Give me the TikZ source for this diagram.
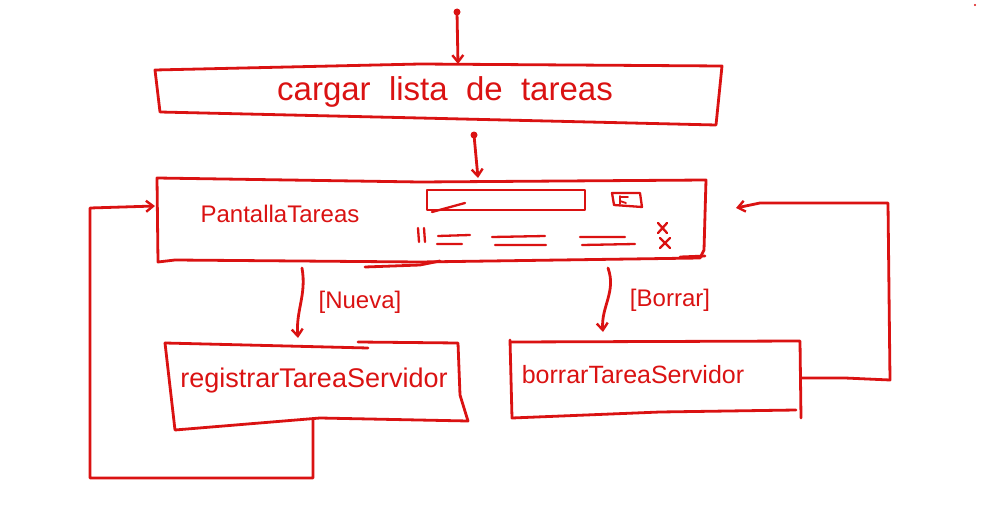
\documentclass[tikz,border=0pt]{standalone}
\usepackage{fontspec}
\setmainfont{Liberation Sans}
\usetikzlibrary{arrows.meta}
\definecolor{ink}{RGB}{218,18,18}
\tikzset{
  pen/.style={draw=ink, line width=2.8pt, line cap=round, line join=round},
  thin pen/.style={pen, line width=2.3pt},
  flow/.style={pen, -{Straight Barb[length=7pt,width=11pt,line width=2.4pt]}},
  lbl/.style={text=ink, inner sep=0pt, font=#1},
  lbl/.default={\fontsize{22}{22}\selectfont}
}
\begin{document}
\begin{tikzpicture}[x=1pt,y=-1pt]
\useasboundingbox (0,0) rectangle (994,511);
% start
\fill[ink] (457,12) circle (3.5pt);
\coordinate (s0) at (457,12);
% box 1
\draw[pen] (155,70) -- (420,64) -- (722,66) -- (716,125) -- (420,118) -- (160,112) -- cycle;
\coordinate (b1top) at (458,64);
\node[lbl={\fontsize{33}{33}\selectfont}] (t1) at (445,92) {cargar\ \ lista\ \ de\ \ tareas};
\draw[flow] (s0) -- (b1top);
% second dot and arrow
\fill[ink] (474,135) circle (3.5pt);
\coordinate (s1) at (474,135);
% box 2
\draw[pen] (157,178) -- (420,182) -- (706,180) -- (704,250) -- (700,258) -- (420,262) -- (175,260) -- (158,262) -- cycle;
\coordinate (b2top) at (478,178);
\coordinate (b2left) at (155,206);
\coordinate (b2right) at (736,208);
\draw[flow] (s1) -- (b2top);
\node[lbl={\fontsize{24}{24}\selectfont}] (t2) at (280,214) {PantallaTareas};
% mockup inside box 2
\draw[thin pen] (427,190) rectangle (585,210);
\draw[thin pen] (432,212) -- (465,203);
\draw[thin pen] (612,193) -- (640,193) -- (642,207) -- (614,205) -- cycle;
\draw[thin pen, line width=1.8pt] (620,196) -- (620,204) (620,197) -- (628,197) (620,201) -- (626,203);
\draw[thin pen] (418,228) -- (419,242) (424,228) -- (425,242);
\draw[thin pen] (438,236) -- (470,235) (437,244) -- (462,244);
\draw[thin pen] (492,237) -- (545,236) (495,245) -- (546,245);
\draw[thin pen] (580,237) -- (625,237) (582,245) -- (635,244);
\draw[thin pen] (658,223) -- (667,233) (667,223) -- (658,233);
\draw[thin pen] (660,238) -- (670,248) (670,238) -- (660,248);
\draw[pen] (680,257) -- (705,256);
\draw[pen] (365,267) -- (420,265) -- (440,261);
% branches
\coordinate (n0) at (302,268);
\coordinate (b3top) at (298,338);
\draw[flow] (n0) to[out=-80,in=95] (b3top);
\node[lbl={\fontsize{24}{24}\selectfont}] (lnueva) at (360,302) {[Nueva]};
\coordinate (r0) at (608,268);
\coordinate (b4top) at (603,332);
\draw[flow] (r0) to[out=-70,in=95] (b4top);
\node[lbl={\fontsize{24}{24}\selectfont}] (lborrar) at (670,300) {[Borrar]};
% box 3
\draw[pen] (165,343) -- (368,348);
\draw[pen] (358,342) -- (458,343) -- (460,395) -- (468,421) -- (320,418) -- (175,430) -- (165,343);
\node[lbl={\fontsize{27}{27}\selectfont}] (t3) at (314,381) {registrarTareaServidor};
\coordinate (b3bot) at (313,419);
% box 4
\draw[pen] (512,342) -- (800,341) -- (801,418) (796,410) -- (660,412) -- (512,418) -- (510,340);
\node[lbl={\fontsize{25}{25}\selectfont}] (t4) at (633,375) {borrarTareaServidor};
\coordinate (b4right) at (801,378);
% loops
\draw[flow] (b3bot) -- (313,478) -- (90,478) -- (90,208) -- (b2left);
\draw[flow] (b4right) -- (845,378) -- (890,380) -- (888,203) -- (760,203) -- (b2right);
% stray mark
\fill[ink] (975,5) circle (1.2pt);
\end{tikzpicture}
\end{document}
